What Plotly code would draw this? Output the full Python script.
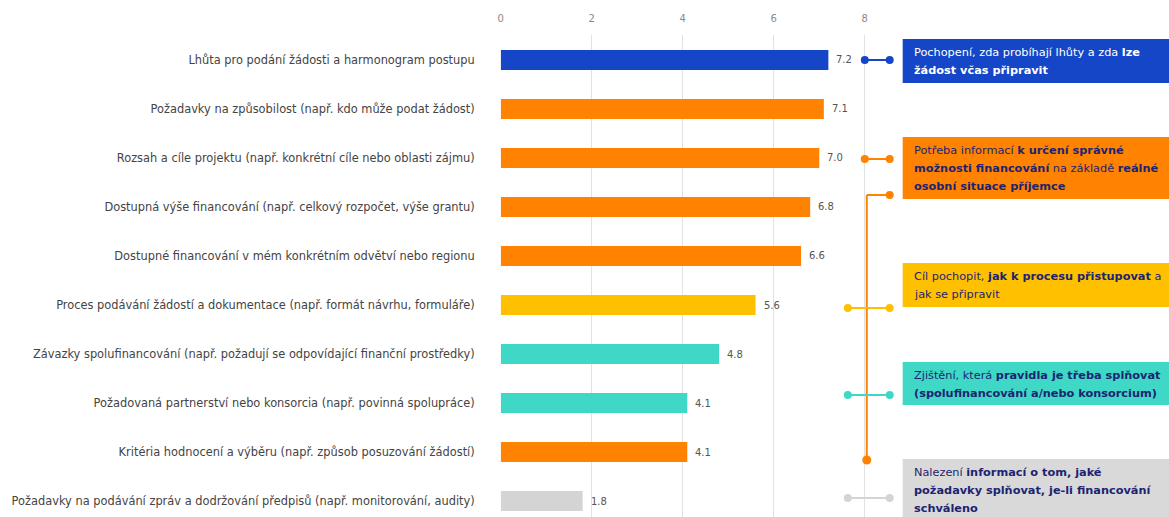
import plotly.graph_objects as go

W, H = 1169, 517

categories = [
    "Lhůta pro podání žádosti a harmonogram postupu",
    "Požadavky na způsobilost (např. kdo může podat žádost)",
    "Rozsah a cíle projektu (např. konkrétní cíle nebo oblasti zájmu)",
    "Dostupná výše financování (např. celkový rozpočet, výše grantu)",
    "Dostupné financování v mém konkrétním odvětví nebo regionu",
    "Proces podávání žádostí a dokumentace (např. formát návrhu, formuláře)",
    "Závazky spolufinancování (např. požadují se odpovídající finanční prostředky)",
    "Požadovaná partnerství nebo konsorcia (např. povinná spolupráce)",
    "Kritéria hodnocení a výběru (např. způsob posuzování žádostí)",
    "Požadavky na podávání zpráv a dodržování předpisů (např. monitorování, audity)",
]
values = [7.2, 7.1, 7.0, 6.8, 6.6, 5.6, 4.8, 4.1, 4.1, 1.8]
groups = ["blue", "orange", "orange", "orange", "orange", "yellow", "teal", "teal", "orange", "gray"]
tick_values = [0, 2, 4, 6, 8]

palette = {
    "blue": "#1646c8",
    "orange": "#ff8200",
    "yellow": "#ffc000",
    "teal": "#3fd8c6",
    "gray": "#d4d4d4",
}
box_bg = {
    "blue": "#1646c8",
    "orange": "#ff8200",
    "yellow": "#ffc000",
    "teal": "#3fd8c6",
    "gray": "#d9d9d9",
}
NAVY = "#1c2472"

box_lines = {
    "blue": ["Pochopení, zda probíhají lhůty a zda <b>lze</b>",
             "<b>žádost včas připravit</b>"],
    "orange": ["Potřeba informací <b>k určení správné</b>",
               "<b>možnosti financování</b> na základě <b>reálné</b>",
               "<b>osobní situace příjemce</b>"],
    "yellow": ["Cíl pochopit, <b>jak k procesu přistupovat</b> a",
               "jak se připravit"],
    "teal": ["Zjištění, která <b>pravidla je třeba splňovat</b>",
             "<b>(spolufinancování a/nebo konsorcium)</b>"],
    "gray": ["Nalezení <b>informací o tom, jaké</b>",
             "<b>požadavky splňovat, je-li financování</b>",
             "<b>schváleno</b>"],
}

FONT = "DejaVu Sans"

# layout geometry (pixels)
X0_PX, UNIT_PX = 499, 45.625
PLOT_TOP = 35
ROW0, ROW_STEP = 60, 49


def px(x):
    return x / W


def py(y):
    return 1 - y / H


fig = go.Figure()
fig.add_trace(go.Bar(
    x=values,
    y=categories,
    orientation="h",
    width=0.41,
    marker=dict(color=[palette[g] for g in groups], line=dict(width=0)),
    hoverinfo="x+y",
    cliponaxis=False,
))

annotations = []
for c, v in zip(categories, values):
    annotations.append(dict(
        x=v, y=c, xref="x", yref="y", text=f"{v:.1f}", showarrow=False,
        xanchor="left", yanchor="middle", xshift=6,
        font=dict(size=10, color="#555555", family=FONT),
    ))

shapes = []

# boxes (top, bottom in px)
boxes = {
    "blue": (39, 83),
    "orange": (137, 199),
    "yellow": (263, 307),
    "teal": (362, 405),
    "gray": (459, 530),
}
for g, (t, b) in boxes.items():
    shapes.append(dict(type="rect", xref="paper", yref="paper",
                       x0=px(902), x1=1.0, y0=py(b), y1=py(t),
                       fillcolor=box_bg[g], line=dict(width=0), layer="below"))
    lines = box_lines[g]
    first = t + 13
    col = "white" if g == "blue" else NAVY
    for i, ln in enumerate(lines):
        annotations.append(dict(
            x=px(911), y=py(first + i * 18.3), xref="paper", yref="paper",
            text=ln, showarrow=False, xanchor="left", yanchor="middle",
            align="left", font=dict(size=11.3, color=col, family=FONT),
        ))


# connectors
def seg(x0, y0, x1, y1, color):
    shapes.append(dict(type="line", xref="paper", yref="paper",
                       x0=px(x0), y0=py(y0), x1=px(x1), y1=py(y1),
                       line=dict(color=color, width=2)))


def dot(x, y, color, r=4):
    shapes.append(dict(type="circle", xref="paper", yref="paper",
                       xsizemode="pixel", ysizemode="pixel",
                       xanchor=px(x), yanchor=py(y),
                       x0=-r, x1=r, y0=-r, y1=r,
                       fillcolor=color, line=dict(width=0)))


connectors = [
    ("blue", 864, 60),
    ("orange", 864, 159),
    ("yellow", 847, 308),
    ("teal", 847, 395),
    ("gray", 847, 498),
]
# orange vertical bracket
seg(866, 195, 866, 460, palette["orange"])
seg(866, 195, 889, 195, palette["orange"])
dot(889, 195, palette["orange"])
dot(866, 460, palette["orange"], r=4.5)
for g, x0, y in connectors:
    seg(x0, y, 889, y, palette[g])
    dot(x0, y, palette[g])
    dot(889, y, palette[g])

fig.update_layout(
    width=W, height=H,
    margin=dict(l=0, r=0, t=0, b=0),
    paper_bgcolor="white", plot_bgcolor="white",
    showlegend=False,
    bargap=0.5,
    xaxis=dict(
        domain=[px(X0_PX), 1.0],
        range=[0, (W - X0_PX) / UNIT_PX],
        side="top",
        tickmode="array", tickvals=tick_values,
        ticktext=[str(t) for t in tick_values],
        showgrid=True, gridcolor="#e2e2e2", gridwidth=1,
        zeroline=False, showline=False,
        ticks="", ticklabelstandoff=10,
        tickfont=dict(size=10, color="#8a8a8a", family=FONT),
        fixedrange=True,
    ),
    yaxis=dict(
        domain=[0, 1 - PLOT_TOP / H],
        type="category",
        categoryorder="array", categoryarray=categories,
        range=[(H - ROW0) / ROW_STEP, (PLOT_TOP - ROW0) / ROW_STEP],
        showgrid=False, zeroline=False, showline=False,
        ticks="", ticklabelstandoff=25,
        tickfont=dict(size=11.4, color="#444444", family=FONT),
        fixedrange=True,
    ),
    annotations=annotations,
    shapes=shapes,
)

fig.write_html(
    "out.html",
    config={"displayModeBar": False},
    post_script="document.body.style.margin='0';document.body.style.padding='0';",
)
